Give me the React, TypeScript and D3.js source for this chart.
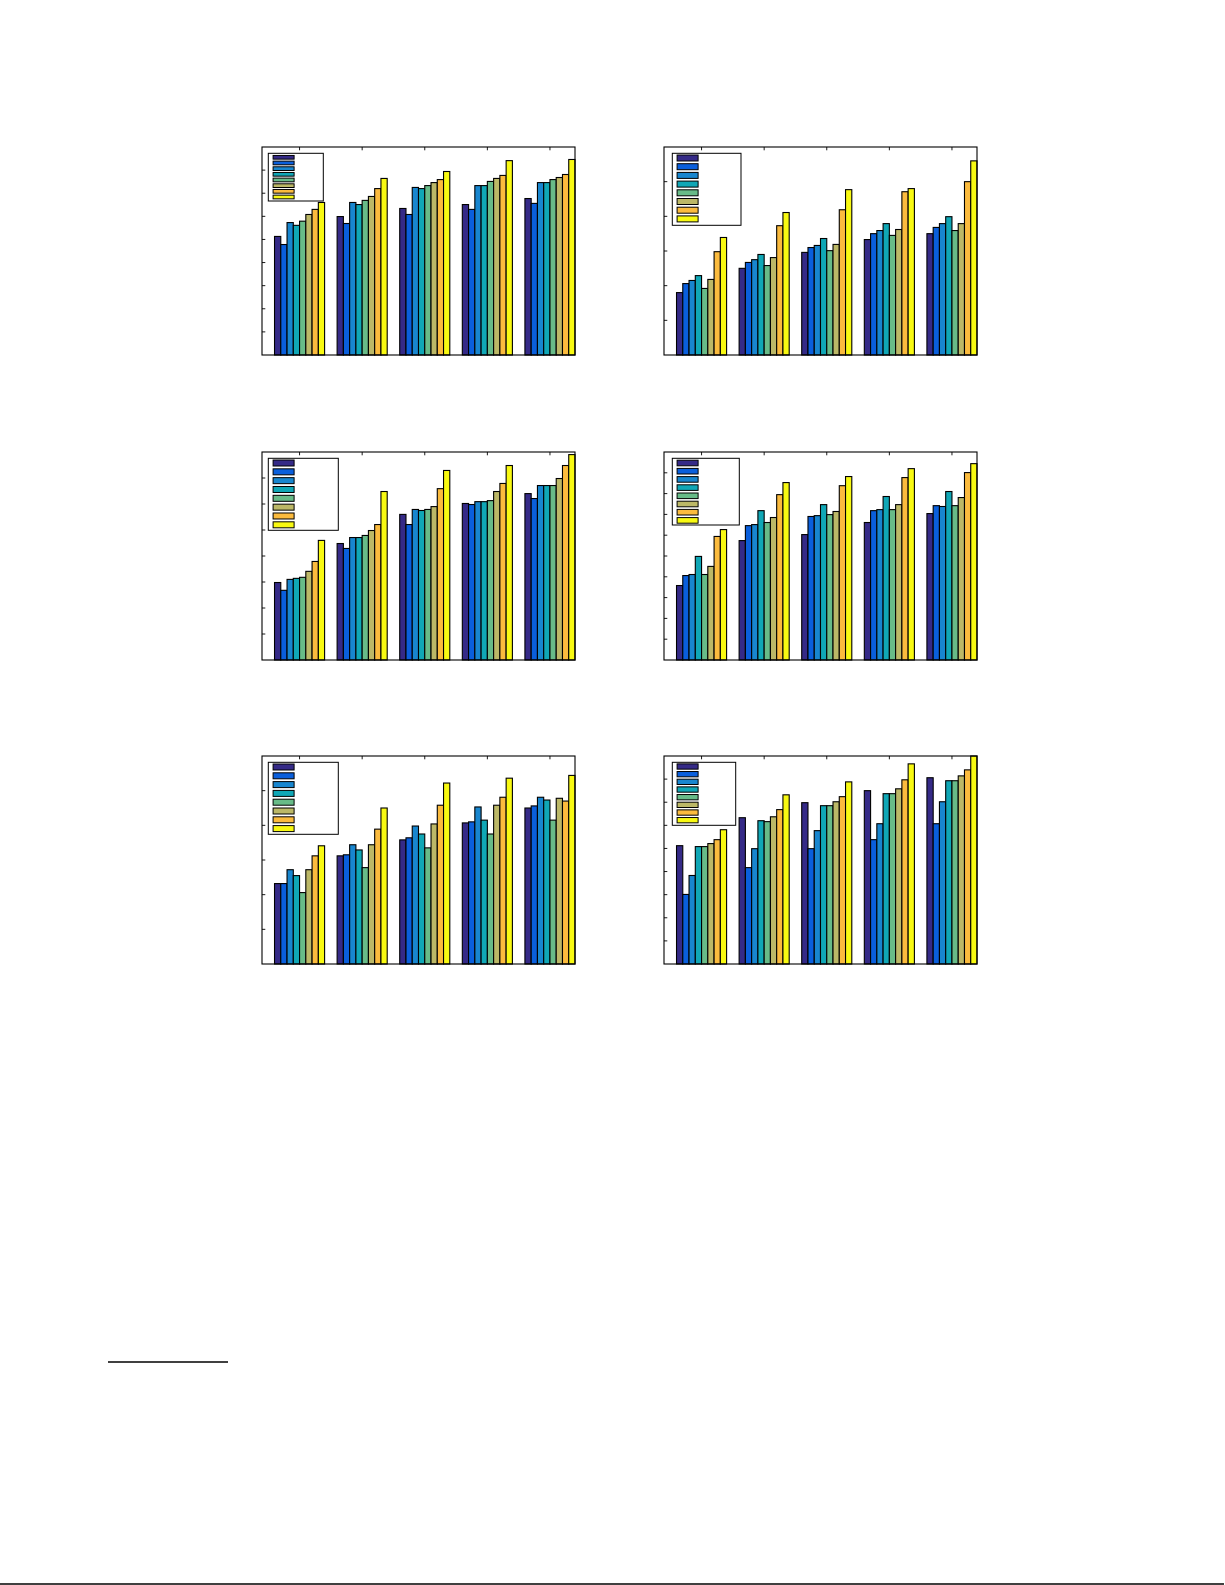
import * as d3 from 'd3'
import React from 'react'

// five groups on the x axis, eight series per group
const groups = [1, 2, 3, 4, 5]
const seriesColors = ['#352A87', '#0A5FDC', '#1886CF', '#10A7B6', '#68BB88', '#BCB867', '#FBBB3E', '#F8F912']

const panelA = [
  [51.3, 47.8, 57.3, 56.1, 57.9, 60.8, 63.0, 66.0],
  [59.9, 56.9, 66.0, 65.1, 66.9, 68.6, 72.0, 76.4],
  [63.4, 60.8, 72.5, 72.0, 73.3, 74.6, 75.9, 79.4],
  [65.1, 63.0, 73.3, 73.3, 75.1, 76.4, 77.7, 84.1],
  [67.7, 65.6, 74.6, 74.6, 75.9, 76.8, 78.1, 84.6],
]
const panelB = [
  [18.0, 20.6, 21.5, 22.9, 19.2, 21.8, 29.8, 33.9],
  [25.0, 26.7, 27.5, 29.0, 25.8, 28.1, 37.3, 41.1],
  [29.6, 31.0, 31.6, 33.6, 30.1, 31.9, 41.9, 47.7],
  [33.3, 35.0, 35.9, 37.9, 34.5, 36.2, 47.1, 48.0],
  [35.0, 36.8, 37.9, 39.9, 35.9, 37.9, 50.0, 56.0],
]
const panelC = [
  [29.8, 26.8, 31.0, 31.4, 31.8, 34.1, 37.9, 46.0],
  [44.8, 42.9, 47.1, 47.1, 47.9, 49.8, 52.1, 64.8],
  [56.0, 52.1, 57.9, 57.5, 57.9, 59.0, 65.9, 72.9],
  [60.2, 59.8, 60.9, 60.9, 61.3, 64.8, 67.9, 74.8],
  [64.0, 62.1, 67.1, 67.1, 67.1, 69.8, 74.8, 79.0],
]
const panelD = [
  [35.8, 40.6, 41.1, 49.8, 41.1, 45.0, 59.4, 62.7],
  [57.4, 64.6, 65.1, 71.8, 66.1, 68.5, 79.5, 85.3],
  [60.3, 69.0, 69.4, 74.7, 69.9, 71.4, 83.8, 88.2],
  [66.1, 71.8, 72.3, 78.6, 72.3, 74.7, 87.7, 92.0],
  [70.4, 74.2, 73.8, 81.0, 74.2, 78.1, 90.1, 94.4],
]
const panelE = [
  [23.2, 23.2, 27.2, 25.5, 20.6, 27.2, 31.2, 34.1],
  [31.2, 31.5, 34.4, 32.9, 27.8, 34.4, 38.9, 45.0],
  [35.8, 36.4, 39.8, 37.5, 33.5, 40.4, 45.8, 52.2],
  [40.7, 41.0, 45.3, 41.5, 37.5, 45.8, 48.1, 53.6],
  [45.0, 45.6, 48.1, 47.3, 41.5, 47.8, 47.0, 54.4],
]
const panelF = [
  [51.2, 30.1, 38.3, 50.8, 50.8, 52.1, 53.8, 58.1],
  [63.3, 41.7, 49.9, 62.0, 61.6, 63.7, 66.8, 73.2],
  [69.8, 49.9, 57.7, 68.5, 68.5, 70.2, 72.4, 78.8],
  [75.0, 53.8, 60.7, 73.7, 73.7, 75.8, 79.7, 86.6],
  [80.6, 60.7, 70.2, 79.3, 79.3, 81.4, 84.0, 90.0],
]
const yMaxes = [90, 60, 80, 100, 60, 90]
const panels = [panelA, panelB, panelC, panelD, panelE, panelF]

// placement on the page and legend box geometry, per panel
const layout = [
  { left: 262, top: 147, lx: 6.3, lw: 55, lh: 47.7, first: 4, step: 5.67, ph: 3.7 },
  { left: 664, top: 147, lx: 8.3, lw: 68.7, lh: 72, first: 4.7, step: 8.7, ph: 6 },
  { left: 262, top: 452, lx: 6.3, lw: 70, lh: 72, first: 4.7, step: 8.83, ph: 6 },
  { left: 664, top: 452, lx: 8.3, lw: 67, lh: 66.7, first: 4.7, step: 8.2, ph: 5.6 },
  { left: 262, top: 756, lx: 6.3, lw: 70, lh: 72, first: 4.7, step: 8.8, ph: 6 },
  { left: 664, top: 756, lx: 8.3, lw: 63.4, lh: 63, first: 4.2, step: 7.67, ph: 5.3 },
]

const W = 313, H = 208

const Panel = ({ data, yMax, pos }: { data: number[][], yMax: number, pos: typeof layout[0] }) => {
  const
    x = d3.scaleLinear().domain([0.4, 5.4]).range([0, W]),
    y = d3.scaleLinear().domain([0, yMax]).range([H, 0]),
    bw = x(0.1) - x(0),
    yTicks = d3.range(10, yMax, 10)
  return (
    <g transform={`translate(${pos.left},${pos.top})`}>
      {yTicks.map(t => <line key={t} x1={0} x2={3.3} y1={y(t)} y2={y(t)} stroke='#000' strokeWidth={0.9} />)}
      {groups.map(g => <line key={g} x1={x(g)} x2={x(g)} y1={0} y2={3.3} stroke='#000' strokeWidth={0.9} />)}
      {data.map((row, gi) => row.map((v, si) => (
        <rect key={`${gi}-${si}`}
          x={x(groups[gi] - 0.4 + si * 0.1)} width={bw}
          y={y(Math.min(v, yMax))} height={H - y(Math.min(v, yMax))}
          fill={seriesColors[si]} stroke='#000' strokeWidth={1.1} />
      )))}
      <rect x={0} y={0} width={W} height={H} fill='none' stroke='#000' strokeWidth={1.1} />
      <g transform={`translate(${pos.lx},6.3)`}>
        <rect width={pos.lw} height={pos.lh} fill='#fff' stroke='#000' strokeWidth={1} />
        {seriesColors.map((c, i) => (
          <rect key={c} x={4.8} width={21} y={pos.first + i * pos.step - pos.ph / 2}
            height={pos.ph} fill={c} stroke='#000' strokeWidth={1} />
        ))}
      </g>
    </g>
  )
}

export default function App() {
  return (
    <svg width={1225} height={1585} style={{ position: 'absolute', left: 0, top: 0, background: '#fff' }}>
      <rect width={1225} height={1585} fill='#fff' />
      {panels.map((p, i) => <Panel key={i} data={p} yMax={yMaxes[i]} pos={layout[i]} />)}
      <line x1={108} x2={228} y1={1362} y2={1362} stroke='#000' strokeWidth={1.3} />
      <line x1={0} x2={1224} y1={1584} y2={1584} stroke='#000' strokeWidth={1.6} />
    </svg>
  )
}
